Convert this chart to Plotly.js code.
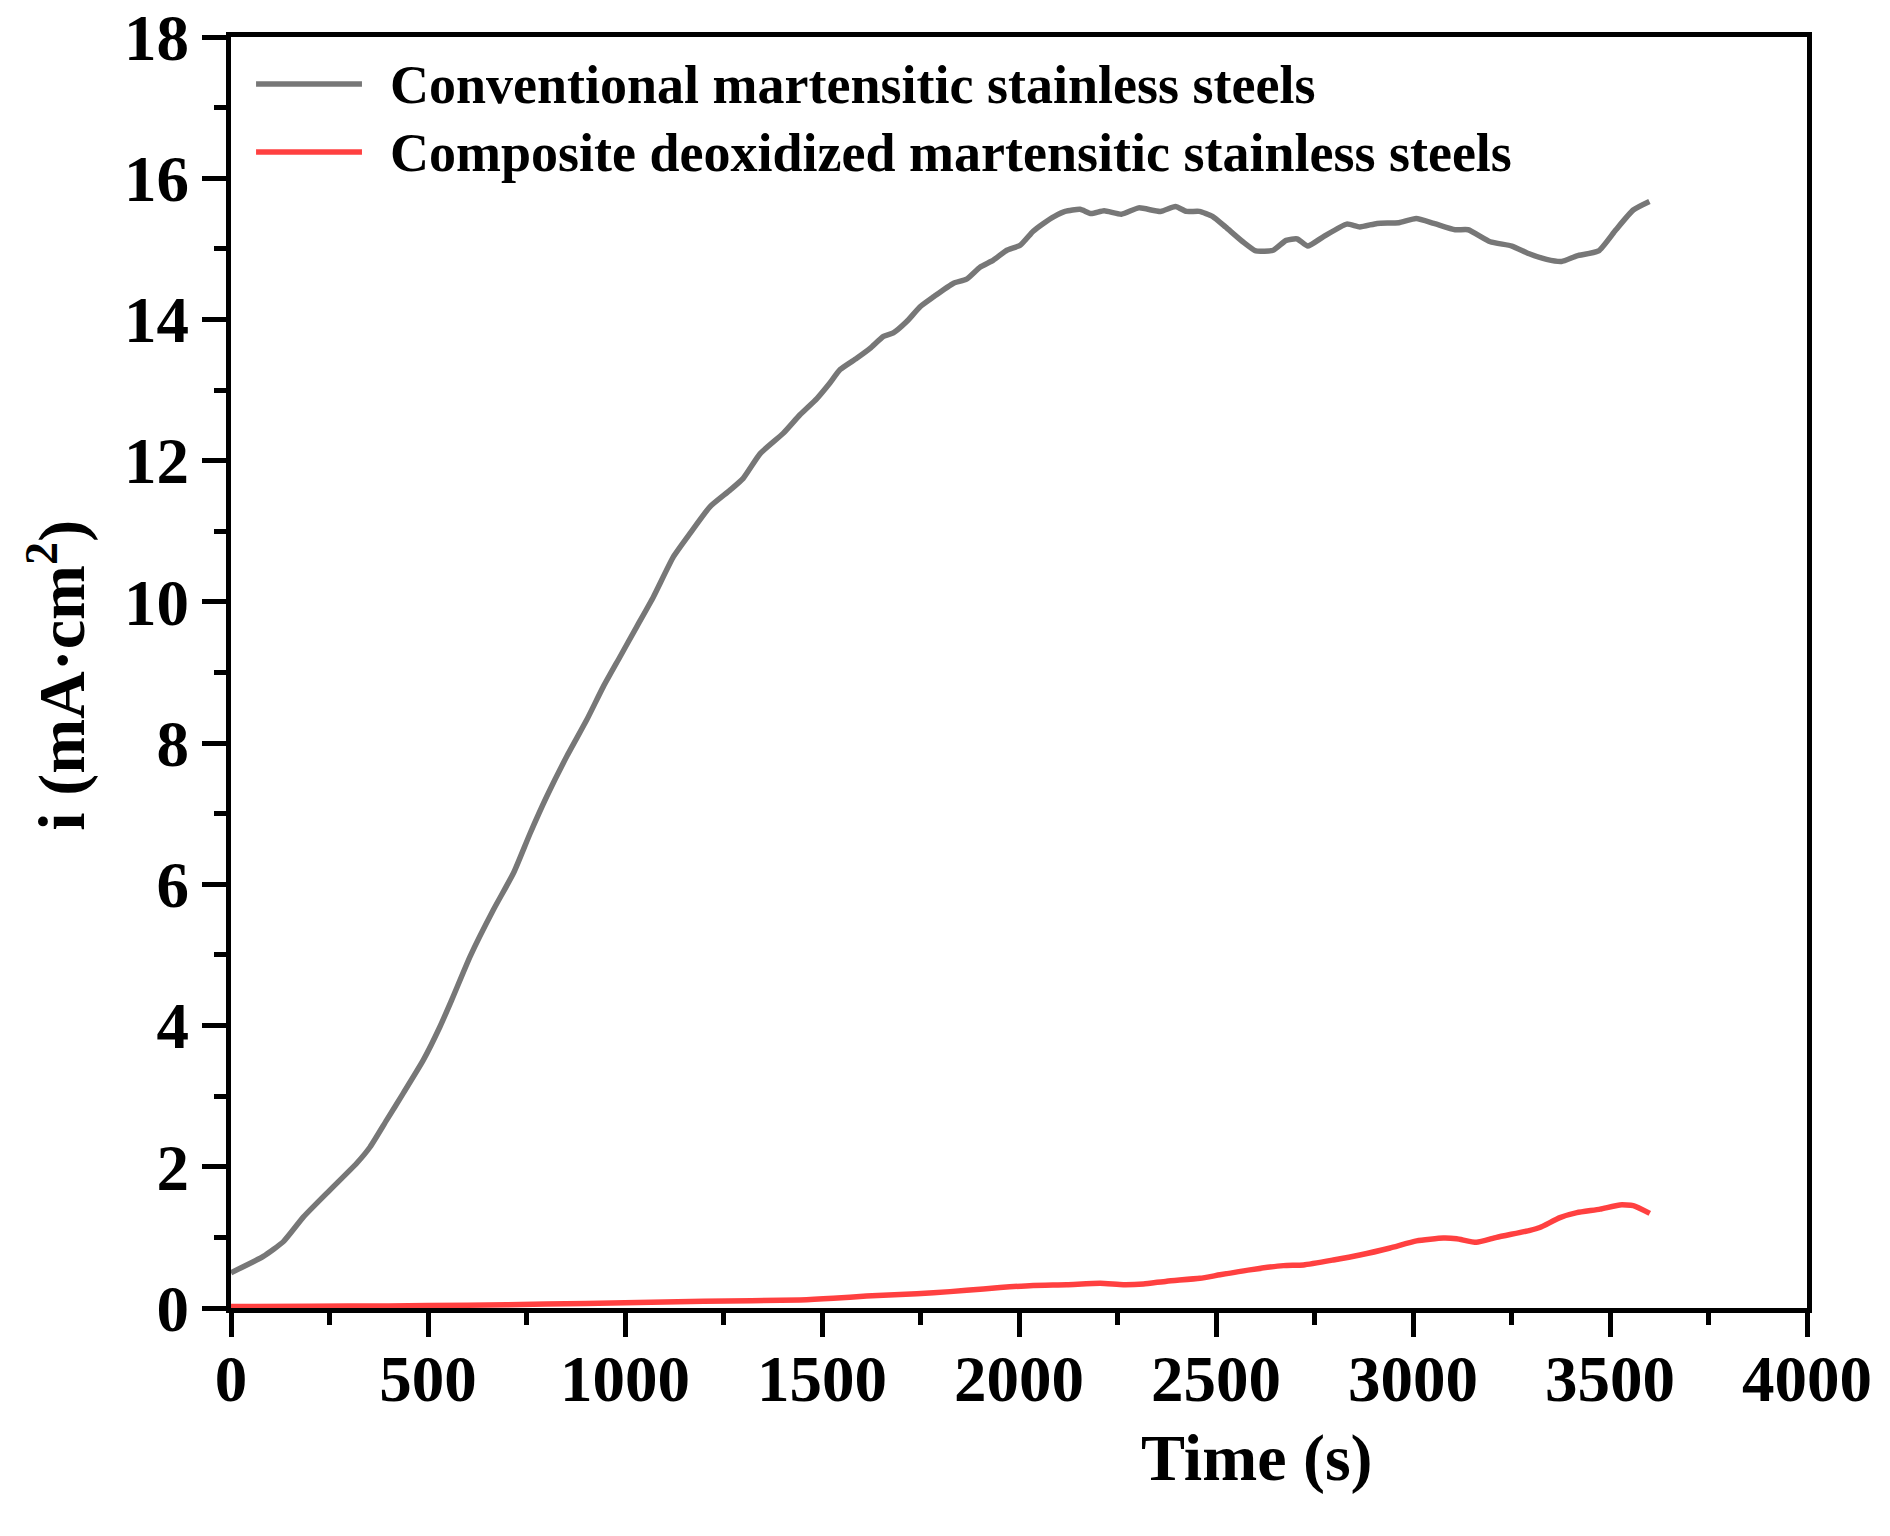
<!DOCTYPE html>
<html>
<head>
<meta charset="utf-8">
<script src="https://cdn.plot.ly/plotly-3.0.1.min.js"></script>
<style>
  html, body { margin: 0; padding: 0; background: #ffffff; }
  #chart { width: 1890px; height: 1536px; }
</style>
</head>
<body>
<div id="chart"></div>
<script>
// Conventional martensitic stainless steels (grey)
const convTime = [0, 82, 133, 184, 251, 319, 353, 395, 437, 488, 530, 560, 607, 666, 717, 759, 801, 852, 903, 945, 987, 1030, 1072, 1123, 1165, 1216, 1266, 1300, 1343, 1402, 1444, 1487, 1520, 1546, 1588, 1622, 1656, 1681, 1715, 1749, 1783, 1833, 1867, 1901, 1935, 1969, 2003, 2036, 2062, 2090, 2117, 2155, 2183, 2216, 2260, 2304, 2359, 2397, 2425, 2458, 2491, 2524, 2568, 2601, 2645, 2678, 2706, 2733, 2772, 2832, 2865, 2909, 2964, 3008, 3053, 3107, 3140, 3196, 3251, 3295, 3339, 3377, 3416, 3471, 3515, 3559, 3600];
const convCurrent = [0.50, 0.73, 0.94, 1.29, 1.67, 2.05, 2.28, 2.66, 3.04, 3.51, 3.98, 4.36, 4.98, 5.64, 6.16, 6.72, 7.24, 7.81, 8.33, 8.80, 9.22, 9.65, 10.07, 10.64, 10.97, 11.35, 11.58, 11.75, 12.10, 12.39, 12.65, 12.88, 13.10, 13.29, 13.45, 13.59, 13.76, 13.81, 13.97, 14.18, 14.32, 14.51, 14.57, 14.74, 14.84, 14.98, 15.05, 15.25, 15.36, 15.46, 15.53, 15.56, 15.50, 15.54, 15.49, 15.58, 15.53, 15.60, 15.53, 15.53, 15.46, 15.31, 15.10, 14.97, 14.98, 15.12, 15.14, 15.04, 15.17, 15.35, 15.31, 15.36, 15.37, 15.43, 15.36, 15.27, 15.27, 15.10, 15.04, 14.93, 14.85, 14.82, 14.90, 14.97, 15.27, 15.55, 15.67];

// Composite deoxidized martensitic stainless steels (red)
const compTime = [0, 200, 400, 600, 800, 1000, 1200, 1444, 1529, 1613, 1698, 1783, 1867, 1952, 2036, 2121, 2206, 2265, 2316, 2375, 2459, 2510, 2586, 2671, 2722, 2798, 2865, 2942, 3009, 3077, 3111, 3161, 3212, 3297, 3322, 3373, 3416, 3475, 3525, 3559, 3601];
const compCurrent = [0.02, 0.025, 0.03, 0.04, 0.055, 0.075, 0.095, 0.113, 0.137, 0.17, 0.19, 0.215, 0.25, 0.29, 0.32, 0.33, 0.35, 0.33, 0.34, 0.38, 0.42, 0.47, 0.54, 0.60, 0.61, 0.68, 0.75, 0.85, 0.95, 0.99, 0.98, 0.93, 1.00, 1.10, 1.14, 1.28, 1.35, 1.40, 1.46, 1.45, 1.34];

const seriesNames = ["Conventional martensitic stainless steels", "Composite deoxidized martensitic stainless steels"];
const seriesColors = ["#777777", "#FF4040"];
const xTitle = "Time (s)";
const yTitle = "i (mA\u00B7cm<sup>2</sup>)";

const FONT = "'Times New Roman', 'Liberation Serif', serif";
const LW = 5.5;

const traces = [
  { x: convTime, y: convCurrent, type: "scatter", mode: "lines", name: seriesNames[0],
    line: { color: seriesColors[0], width: LW, shape: "spline", smoothing: 0.5 }, showlegend: false },
  { x: compTime, y: compCurrent, type: "scatter", mode: "lines", name: seriesNames[1],
    line: { color: seriesColors[1], width: LW, shape: "spline", smoothing: 0.5 }, showlegend: false }
];

const axisCommon = {
  showline: true, linewidth: 5, linecolor: "#000000", mirror: true,
  ticks: "outside", ticklen: 24, tickwidth: 5, tickcolor: "#000000",
  showgrid: false, zeroline: false,
  tickfont: { family: FONT, size: 65, weight: "bold", color: "#000000" }
};

// legend placement (paper fractions)
const legendRowsY = [0.9630, 0.9095];
const legendLineX = [0.0159, 0.0831];
const legendTextX = 0.0998;

const shapes = [];
const annotations = [
  { text: xTitle, xref: "paper", yref: "paper", x: 0.651, y: -0.118,
    xanchor: "center", yanchor: "middle", showarrow: false,
    font: { family: FONT, size: 66, weight: "bold", color: "#000000" } },
  { text: yTitle, xref: "paper", yref: "paper", x: -0.110, y: 0.498,
    xanchor: "center", yanchor: "middle", showarrow: false, textangle: -90,
    font: { family: FONT, size: 66, weight: "bold", color: "#000000" } }
];
seriesNames.forEach(function (nm, k) {
  shapes.push({ type: "line", xref: "paper", yref: "paper",
    x0: legendLineX[0], x1: legendLineX[1], y0: legendRowsY[k], y1: legendRowsY[k],
    line: { color: seriesColors[k], width: LW } });
  annotations.push({ text: nm, xref: "paper", yref: "paper", x: legendTextX, y: legendRowsY[k] - 0.001,
    xanchor: "left", yanchor: "middle", showarrow: false,
    font: { family: FONT, size: 54, weight: "bold", color: "#000000" } });
});

const layout = {
  width: 1890, height: 1536,
  margin: { l: 231, r: 83, t: 37, b: 228 },
  paper_bgcolor: "#ffffff", plot_bgcolor: "#ffffff",
  font: { family: FONT, color: "#000000" },
  showlegend: false,
  xaxis: Object.assign({}, axisCommon, {
    range: [0, 4000], tick0: 0, dtick: 500, ticklabelstandoff: -14,
    minor: { dtick: 250, ticks: "outside", ticklen: 12, tickwidth: 5, tickcolor: "#000000", showgrid: false }
  }),
  yaxis: Object.assign({}, axisCommon, {
    range: [0, 18], tick0: 0, dtick: 2,
    minor: { dtick: 1, ticks: "outside", ticklen: 12, tickwidth: 5, tickcolor: "#000000", showgrid: false }
  }),
  shapes: shapes,
  annotations: annotations
};

Plotly.newPlot("chart", traces, layout, { staticPlot: true, displayModeBar: false });
</script>
</body>
</html>
